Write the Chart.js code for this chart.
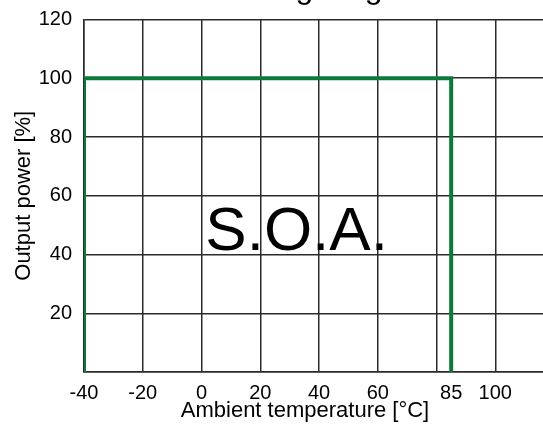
<!DOCTYPE html>
<html>
<head>
<meta charset="utf-8">
<script src="https://cdn.jsdelivr.net/npm/chart.js@4"></script>
<style>
  html, body { margin: 0; padding: 0; background: #fff; overflow: hidden; }
  #wrap { width: 563px; height: 433px; position: relative; }
</style>
</head>
<body>
<div id="wrap"><canvas id="derating"></canvas></div>
<script>
// ----------------- DATA -----------------
const tempPoints = [-40, -40, 85, 85];     // °C
const powerPoints = [0, 100, 100, 0];      // %
const xGridValues = [-40, -20, 0, 20, 40, 60, 80, 85, 100, 120];
const xTickLabels = [-40, -20, 0, 20, 40, 60, 85, 100];
const yTickLabels = [20, 40, 60, 80, 100, 120];
const soaText = "S.O.A.";
const soaAt = { x: 1.3, y: 41.5 };

const FONT = "'Liberation Sans', Arial, sans-serif";
const GRID = "#2b2b2b";
const GREEN = "#0b7a38";

// ----------------- EXTRA TEXT -----------------
const labelsPlugin = {
  id: "labels",
  afterDatasetsDraw(chart) {
    const { ctx, scales } = chart;
    ctx.save();
    ctx.fillStyle = "#000";
    ctx.font = "62px " + FONT;
    ctx.textAlign = "left";
    ctx.textBaseline = "alphabetic";
    ctx.fillText(soaText, scales.x.getPixelForValue(soaAt.x), scales.y.getPixelForValue(soaAt.y));

    // title, mostly cut off by the top edge
    ctx.font = "32px " + FONT;
    ctx.textAlign = "center";
    ctx.fillText("Derating diagram", 315, -2);

    // x axis title (sits a bit left of the plot centre in the original)
    ctx.font = "22px " + FONT;
    ctx.textBaseline = "middle";
    ctx.fillText("Ambient temperature [°C]", 305, 411);
    ctx.restore();
  }
};

// ----------------- CHART -----------------
new Chart(document.getElementById("derating"), {
  type: "scatter",
  data: {
    datasets: [{
      data: tempPoints.map((t, i) => ({ x: t, y: powerPoints[i] })),
      showLine: true,
      borderColor: GREEN,
      borderWidth: 4,
      pointRadius: 0,
      fill: false,
      tension: 0
    }]
  },
  options: {
    responsive: true,
    maintainAspectRatio: false,
    animation: false,
    layout: { padding: { top: 19.5, right: 7, left: 0, bottom: 0 } },
    plugins: { legend: { display: false }, tooltip: { enabled: false } },
    scales: {
      x: {
        type: "linear",
        min: -40,
        max: 120,
        afterBuildTicks: axis => { axis.ticks = xGridValues.map(v => ({ value: v })); },
        afterFit: axis => { axis.height = 61; },
        ticks: {
          autoSkip: false,
          maxRotation: 0,
          padding: 9,
          color: "#000",
          font: { family: FONT, size: 20 },
          callback: v => xTickLabels.includes(v) ? String(v) : ""
        },
        grid: {
          drawTicks: false,
          lineWidth: 1.5,
          color: c => c.tick && c.tick.value === 85 ? "rgba(0,0,0,0)" : GRID
        },
        border: { color: GRID, width: 1.5 }
      },
      y: {
        min: 0,
        max: 120,
        afterFit: axis => { axis.width = 84; axis.paddingTop = 0; axis.paddingBottom = 0; },
        ticks: {
          stepSize: 20,
          padding: 12,
          color: "#000",
          font: { family: FONT, size: 20 },
          callback: v => yTickLabels.includes(v) ? String(v) : ""
        },
        grid: { drawTicks: false, lineWidth: 1.5, color: GRID },
        border: { color: GRID, width: 1.5 },
        title: {
          display: true,
          text: "Output power [%]",
          color: "#000",
          font: { family: FONT, size: 22 },
          padding: { top: 11, bottom: 0 }
        }
      }
    }
  },
  plugins: [labelsPlugin]
});
</script>
</body>
</html>
